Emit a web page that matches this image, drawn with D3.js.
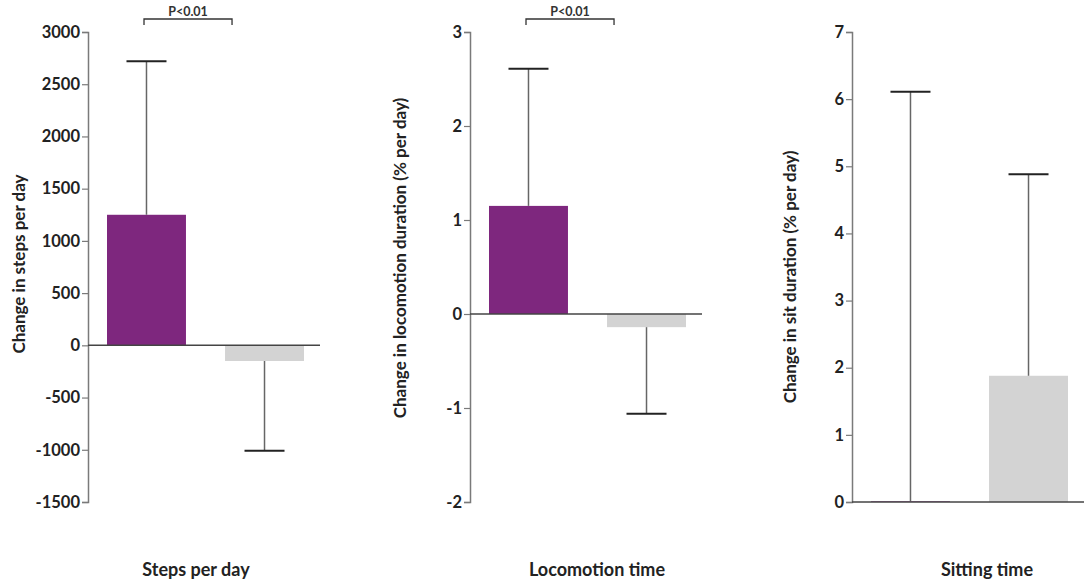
<!DOCTYPE html>
<html>
<head>
<meta charset="utf-8">
<script src="https://cdn.jsdelivr.net/npm/d3@7"></script>
<style>
  body { margin: 0; background: #fff; }
  svg { display: block; font-family: Lato, "Open Sans", sans-serif; font-weight: bold; }
</style>
</head>
<body>
<div class="board"></div>
<script>
// DATA
var groups = ['intervention', 'control'];
var panelTitles = ['Steps per day', 'Locomotion time', 'Sitting time'];
var axisTitles = ['Change in steps per day', 'Change in locomotion duration (% per day)', 'Change in sit duration (% per day)'];
var stepsMean = [1250, -150];
var stepsErr = [2720, -1010];
var locoMean = [1.15, -0.14];
var locoErr = [2.61, -1.06];
var sitMean = [0.01, 1.88];
var sitErr = [6.11, 4.88];
var stepsTicks = [-1500, -1000, -500, 0, 500, 1000, 1500, 2000, 2500, 3000];
var locoTicks = [-2, -1, 0, 1, 2, 3];
var sitTicks = [0, 1, 2, 3, 4, 5, 6, 7];
var pLabels = ['P<0.01', 'P<0.01', null];

var W = 1084, H = 583;
var yTop = 32, yBottom = 502;
var colors = {intervention: '#7e277e', control: '#d3d3d3'};

// layout per panel (axis x, title x/y, bottom label x)
var panels = [
  {ax: 88, tx: 19, ty: 264, lx: 196, mean: stepsMean, err: stepsErr, ticks: stepsTicks},
  {ax: 470, tx: 400, ty: 258, lx: 597, mean: locoMean, err: locoErr, ticks: locoTicks},
  {ax: 852, tx: 790, ty: 277, lx: 987, mean: sitMean, err: sitErr, ticks: sitTicks}
];

var svg = d3.select('.board').append('svg')
  .attr('width', W)
  .attr('height', H);

panels.forEach(function (p, i) {
  var y = d3.scaleLinear()
    .domain(d3.extent(p.ticks))
    .range([yBottom, yTop]);
  var x = d3.scaleBand()
    .domain(groups)
    .range([p.ax, p.ax + 235])
    .paddingInner(0.331)
    .paddingOuter(0.161);

  var g = svg.append('g');

  // y axis
  var axis = g.append('g')
    .attr('transform', 'translate(' + p.ax + ',0)')
    .call(d3.axisLeft(y).tickValues(p.ticks).tickSize(6).tickPadding(2)
      .tickFormat(function (d) { return String(d); }));
  axis.select('.domain').attr('stroke', '#7a7a7a').attr('stroke-width', 1.5);
  axis.selectAll('.tick line').attr('stroke', '#7a7a7a').attr('stroke-width', 1.2);
  axis.selectAll('.tick text')
    .attr('fill', '#222')
    .style('font-size', '16.5px')
    .style('font-weight', 'bold')
    .style('font-family', 'Lato, sans-serif');

  // bars
  g.selectAll('rect.bar')
    .data(groups)
    .enter()
    .append('rect')
    .attr('class', 'bar')
    .attr('x', function (d) { return x(d); })
    .attr('width', x.bandwidth())
    .attr('y', function (d, j) { return y(Math.max(0, p.mean[j])); })
    .attr('height', function (d, j) { return Math.abs(y(p.mean[j]) - y(0)); })
    .attr('fill', function (d) { return colors[d]; });

  // error bars (one-sided)
  var capW = 40;
  g.selectAll('line.err')
    .data(groups)
    .enter()
    .append('line')
    .attr('class', 'err')
    .attr('x1', function (d) { return x(d) + x.bandwidth() / 2; })
    .attr('x2', function (d) { return x(d) + x.bandwidth() / 2; })
    .attr('y1', function (d, j) { return y(p.mean[j]); })
    .attr('y2', function (d, j) { return y(p.err[j]); })
    .attr('stroke', '#666')
    .attr('stroke-width', 1.5);
  g.selectAll('line.cap')
    .data(groups)
    .enter()
    .append('line')
    .attr('class', 'cap')
    .attr('x1', function (d) { return x(d) + x.bandwidth() / 2 - capW / 2; })
    .attr('x2', function (d) { return x(d) + x.bandwidth() / 2 + capW / 2; })
    .attr('y1', function (d, j) { return y(p.err[j]); })
    .attr('y2', function (d, j) { return y(p.err[j]); })
    .attr('stroke', '#222')
    .attr('stroke-width', 2);

  // zero line
  g.append('line')
    .attr('x1', p.ax)
    .attr('x2', p.ax + 232)
    .attr('y1', y(0))
    .attr('y2', y(0))
    .attr('stroke', '#444')
    .attr('stroke-width', 1.5);

  // y title
  g.append('text')
    .attr('transform', 'translate(' + p.tx + ',' + p.ty + ') rotate(-90)')
    .attr('text-anchor', 'middle')
    .attr('dy', '0.35em')
    .attr('fill', '#222')
    .style('font-size', '17px')
    .text(axisTitles[i]);

  // bottom label
  g.append('text')
    .attr('x', p.lx)
    .attr('y', 576)
    .attr('text-anchor', 'middle')
    .attr('fill', '#222')
    .style('font-size', '18px')
    .text(panelTitles[i]);

  // significance bracket
  if (pLabels[i]) {
    var bx1 = x(groups[0]) + 37;
    var bx2 = x(groups[1]) + 7;
    g.append('path')
      .attr('d', 'M' + bx1 + ',25V19H' + bx2 + 'V25')
      .attr('fill', 'none')
      .attr('stroke', '#333')
      .attr('stroke-width', 1.3);
    g.append('text')
      .attr('x', (bx1 + bx2) / 2)
      .attr('y', 16)
      .attr('text-anchor', 'middle')
      .attr('fill', '#333')
      .style('font-size', '12.5px')
      .text(pLabels[i]);
  }
});
</script>
</body>
</html>
